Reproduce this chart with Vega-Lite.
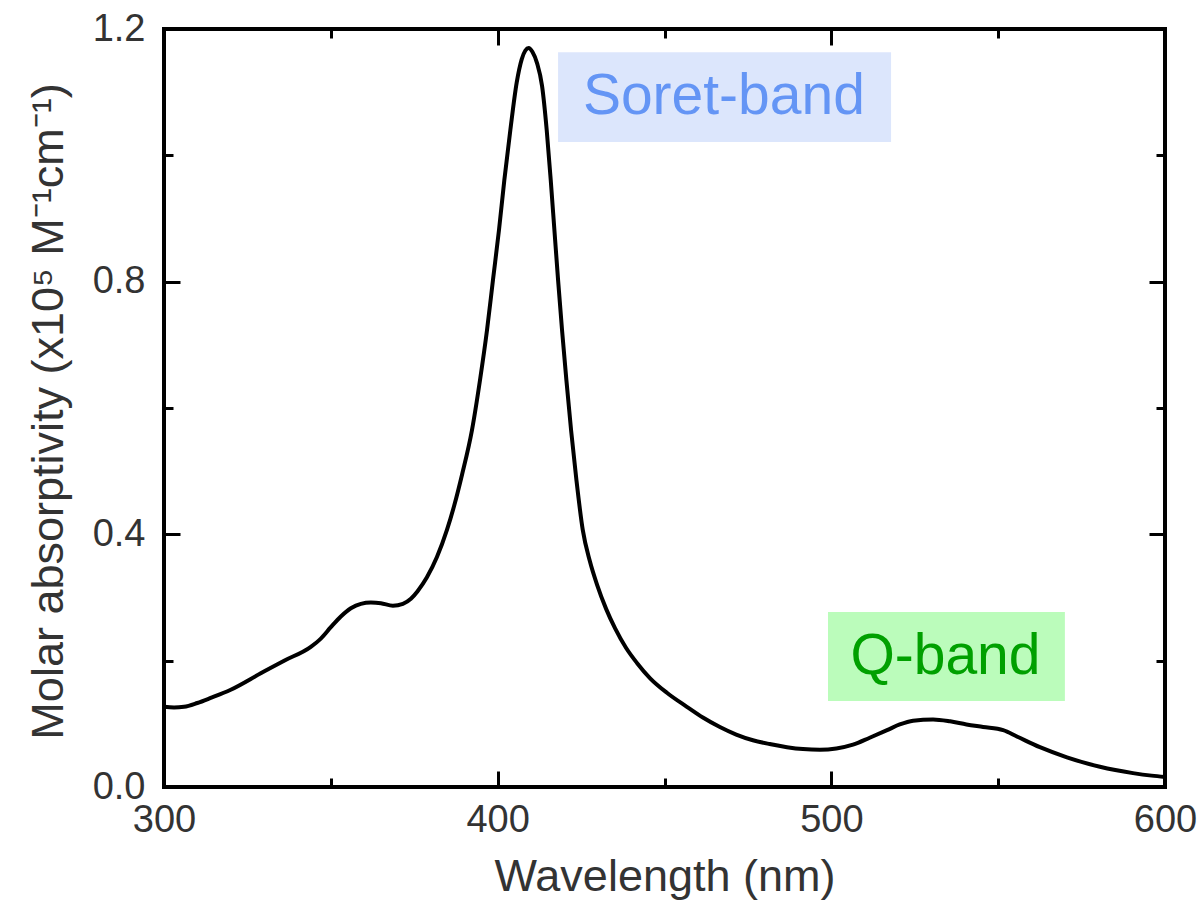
{
  "$schema": "https://vega.github.io/schema/vega-lite/v6.json",
  "width": 1001,
  "height": 758,
  "autosize": "none",
  "padding": {"left": 164, "top": 29, "right": 38, "bottom": 115},
  "background": "white",
  "config": {
    "view": {"stroke": "black", "strokeWidth": 4},
    "font": "Liberation Sans",
    "axis": {"grid": false, "domain": false, "tickColor": "black", "tickWidth": 3, "labelFont": "Liberation Sans", "titleFont": "Liberation Sans"}
  },
  "datasets": {
    "spectrum": [
      {"wavelength": 300, "absorptivity": 0.127},
      {"wavelength": 303, "absorptivity": 0.126},
      {"wavelength": 306, "absorptivity": 0.127},
      {"wavelength": 310, "absorptivity": 0.133},
      {"wavelength": 314, "absorptivity": 0.141},
      {"wavelength": 320, "absorptivity": 0.154},
      {"wavelength": 329, "absorptivity": 0.180},
      {"wavelength": 336, "absorptivity": 0.200},
      {"wavelength": 344, "absorptivity": 0.222},
      {"wavelength": 347, "absorptivity": 0.235},
      {"wavelength": 350, "absorptivity": 0.253},
      {"wavelength": 353, "absorptivity": 0.270},
      {"wavelength": 356, "absorptivity": 0.283},
      {"wavelength": 359, "absorptivity": 0.290},
      {"wavelength": 362, "absorptivity": 0.292},
      {"wavelength": 365, "absorptivity": 0.291},
      {"wavelength": 368.6, "absorptivity": 0.287},
      {"wavelength": 371.6, "absorptivity": 0.290},
      {"wavelength": 374, "absorptivity": 0.298},
      {"wavelength": 376, "absorptivity": 0.310},
      {"wavelength": 378.8, "absorptivity": 0.332},
      {"wavelength": 381.8, "absorptivity": 0.364},
      {"wavelength": 384.8, "absorptivity": 0.407},
      {"wavelength": 387, "absorptivity": 0.446},
      {"wavelength": 389.3, "absorptivity": 0.494},
      {"wavelength": 392.3, "absorptivity": 0.565},
      {"wavelength": 394.7, "absorptivity": 0.644},
      {"wavelength": 396.8, "absorptivity": 0.723},
      {"wavelength": 398.6, "absorptivity": 0.803},
      {"wavelength": 400.4, "absorptivity": 0.882},
      {"wavelength": 402.0, "absorptivity": 0.961},
      {"wavelength": 403.8, "absorptivity": 1.040},
      {"wavelength": 405.7, "absorptivity": 1.115},
      {"wavelength": 407.2, "absorptivity": 1.152},
      {"wavelength": 408.3, "absorptivity": 1.166},
      {"wavelength": 409.3, "absorptivity": 1.170},
      {"wavelength": 410.4, "absorptivity": 1.164},
      {"wavelength": 411.8, "absorptivity": 1.146},
      {"wavelength": 413.3, "absorptivity": 1.110},
      {"wavelength": 414.7, "absorptivity": 1.040},
      {"wavelength": 415.9, "absorptivity": 0.961},
      {"wavelength": 417.0, "absorptivity": 0.882},
      {"wavelength": 418.1, "absorptivity": 0.803},
      {"wavelength": 419.3, "absorptivity": 0.723},
      {"wavelength": 420.6, "absorptivity": 0.644},
      {"wavelength": 422.0, "absorptivity": 0.565},
      {"wavelength": 423.6, "absorptivity": 0.486},
      {"wavelength": 425.5, "absorptivity": 0.407},
      {"wavelength": 427.6, "absorptivity": 0.358},
      {"wavelength": 429.8, "absorptivity": 0.320},
      {"wavelength": 432.5, "absorptivity": 0.282},
      {"wavelength": 435.2, "absorptivity": 0.251},
      {"wavelength": 438.5, "absorptivity": 0.220},
      {"wavelength": 441.8, "absorptivity": 0.196},
      {"wavelength": 445.7, "absorptivity": 0.172},
      {"wavelength": 451, "absorptivity": 0.148},
      {"wavelength": 456.7, "absorptivity": 0.127},
      {"wavelength": 461.5, "absorptivity": 0.110},
      {"wavelength": 466.6, "absorptivity": 0.095},
      {"wavelength": 471.5, "absorptivity": 0.083},
      {"wavelength": 476.5, "absorptivity": 0.074},
      {"wavelength": 481.5, "absorptivity": 0.068},
      {"wavelength": 486.7, "absorptivity": 0.063},
      {"wavelength": 491.5, "absorptivity": 0.060},
      {"wavelength": 496.6, "absorptivity": 0.059},
      {"wavelength": 501.5, "absorptivity": 0.061},
      {"wavelength": 506.5, "absorptivity": 0.067},
      {"wavelength": 511.5, "absorptivity": 0.078},
      {"wavelength": 516.7, "absorptivity": 0.090},
      {"wavelength": 520.5, "absorptivity": 0.099},
      {"wavelength": 524.5, "absorptivity": 0.105},
      {"wavelength": 530.5, "absorptivity": 0.107},
      {"wavelength": 535.6, "absorptivity": 0.104},
      {"wavelength": 540.5, "absorptivity": 0.099},
      {"wavelength": 545.5, "absorptivity": 0.095},
      {"wavelength": 551.5, "absorptivity": 0.090},
      {"wavelength": 555.6, "absorptivity": 0.080},
      {"wavelength": 562.5, "absorptivity": 0.063},
      {"wavelength": 570.6, "absorptivity": 0.047},
      {"wavelength": 580.5, "absorptivity": 0.032},
      {"wavelength": 590.4, "absorptivity": 0.022},
      {"wavelength": 596, "absorptivity": 0.018},
      {"wavelength": 600, "absorptivity": 0.016}
    ],
    "bands": [
      {"band": "Soret-band", "x1": 418.1, "x2": 517.9, "y1": 1.021, "y2": 1.163, "xc": 467.8, "yc": 1.092},
      {"band": "Q-band", "x1": 499.0, "x2": 570.0, "y1": 0.136, "y2": 0.277, "xc": 534.2, "yc": 0.206}
    ]
  },
  "layer": [
    {
      "data": {"name": "bands"},
      "mark": {"type": "rect"},
      "encoding": {
        "x": {"field": "x1", "type": "quantitative", "scale": {"domain": [300, 600], "nice": false, "zero": false},
              "axis": {"orient": "top", "values": [300, 400, 500, 600], "tickSize": -16, "labels": false, "title": null}},
        "x2": {"field": "x2"},
        "y": {"field": "y1", "type": "quantitative", "scale": {"domain": [0, 1.2], "nice": false},
              "axis": {"orient": "right", "values": [0, 0.4, 0.8, 1.2], "tickSize": -16, "labels": false, "title": null}},
        "y2": {"field": "y2"},
        "color": {"field": "band", "type": "nominal", "legend": null,
                  "scale": {"domain": ["Soret-band", "Q-band"], "range": ["#dce6fc", "#bbfcbb"]}}
      }
    },
    {
      "data": {"name": "bands"},
      "mark": {"type": "text", "fontSize": 57, "font": "Liberation Sans", "align": "center", "baseline": "middle"},
      "encoding": {
        "x": {"field": "xc", "type": "quantitative",
              "axis": {"orient": "top", "values": [350, 450, 550], "tickSize": -9, "labels": false, "title": null}},
        "y": {"field": "yc", "type": "quantitative",
              "axis": {"orient": "right", "values": [0.2, 0.6, 1.0], "tickSize": -9, "labels": false, "title": null}},
        "text": {"field": "band"},
        "color": {"field": "band", "type": "nominal", "legend": null,
                  "scale": {"domain": ["Soret-band", "Q-band"], "range": ["#6495f5", "#00a000"]}}
      }
    },
    {
      "data": {"name": "spectrum"},
      "mark": {"type": "line", "opacity": 0},
      "encoding": {
        "x": {"field": "wavelength", "type": "quantitative",
              "axis": {"orient": "bottom", "values": [350, 450, 550], "tickSize": -9, "labels": false, "title": null}},
        "y": {"field": "absorptivity", "type": "quantitative",
              "axis": {"orient": "left", "values": [0.2, 0.6, 1.0], "tickSize": -9, "labels": false, "title": null}}
      }
    },
    {
      "data": {"name": "spectrum"},
      "mark": {"type": "line", "opacity": 0},
      "encoding": {
        "x": {"field": "wavelength", "type": "quantitative",
              "axis": {"orient": "bottom", "values": [300, 400, 500, 600], "tickSize": -16, "labels": false, "title": null}},
        "y": {"field": "absorptivity", "type": "quantitative",
              "axis": {"orient": "left", "values": [0, 0.4, 0.8, 1.2], "tickSize": -16, "labels": false, "title": null}}
      }
    },
    {
      "data": {"name": "spectrum"},
      "mark": {"type": "line", "color": "black", "strokeWidth": 4, "interpolate": "monotone"},
      "encoding": {
        "x": {"field": "wavelength", "type": "quantitative",
              "axis": {"orient": "bottom", "values": [300, 400, 500, 600], "ticks": false, "labelPadding": 14,
                       "labelFontSize": 38, "labelColor": "#333333", "labelFlush": false, "labelOverlap": false, "labelBound": false,
                       "title": "Wavelength (nm)", "titleFontSize": 45, "titleFontWeight": "normal", "titleColor": "#333333",
                       "titleBaseline": "alphabetic", "titleY": 103}},
        "y": {"field": "absorptivity", "type": "quantitative",
              "axis": {"orient": "left", "values": [0, 0.4, 0.8, 1.2], "ticks": false, "labelPadding": 19, "format": ".1f",
                       "labelFontSize": 38, "labelColor": "#333333", "labelFlush": false, "labelOverlap": false, "labelBound": false,
                       "title": "Molar absorptivity (x10⁵ M⁻¹cm⁻¹)", "titleFontSize": 45, "titleFontWeight": "normal", "titleColor": "#333333",
                       "titleAngle": -90, "titleBaseline": "alphabetic", "titleAlign": "center", "titleX": -102, "titleY": 382}}
      }
    }
  ],
  "resolve": {"axis": {"x": "independent", "y": "independent"}, "scale": {"color": "independent"}}
}
